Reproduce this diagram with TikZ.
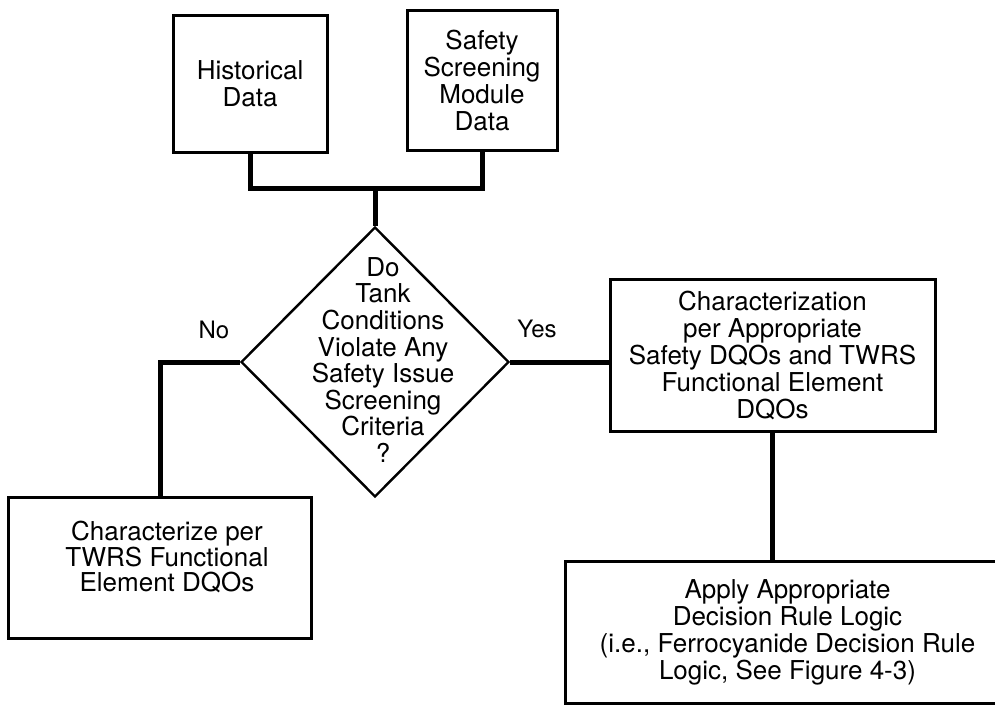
\documentclass[tikz,border=0pt]{standalone}
\usepackage{fontspec}
\setmainfont{TeX Gyre Heros}
\usetikzlibrary{shapes.geometric}
\begin{document}
\begin{tikzpicture}[x=1pt,y=-1pt,
  box/.style={draw, line width=3pt, rectangle, inner sep=0pt, align=center, font=\fontsize{26}{27}\selectfont},
  txt/.style={align=center, inner sep=0pt, font=\fontsize{26}{27}\selectfont},
  conn/.style={line width=5pt},
  dec/.style={draw, diamond, line width=2.4pt, inner sep=0pt},
  lbl/.style={inner sep=0pt, font=\fontsize{24}{26}\selectfont}]
\useasboundingbox[fill=white] (0,0) rectangle (995,705);
\clip (0,0) rectangle (995,705);

% boxes
\node[box, minimum width=154, minimum height=137] (hist) at (250,83.5) {Historical\\Data};
\node[box, minimum width=150, minimum height=140] (safe) at (482,80) {Safety\\Screening\\Module\\Data};
\node[dec, minimum width=268, minimum height=270] (dia) at (375,362) {};
\node[txt, font=\fontsize{26}{26.6}\selectfont] (diatxt) at (383,360) {Do\\Tank\\Conditions\\Violate Any\\Safety Issue\\Screening\\Criteria\\?};
\node[box, minimum width=303, minimum height=141] (lbox) at (160,567.5) {};
\node[txt, font=\fontsize{26}{25}\selectfont] (ltxt) at (167,557) {Characterize per\\TWRS Functional\\Element DQOs};
\node[box, minimum width=325, minimum height=152] (rbox) at (772.5,355) {Characterization\\per Appropriate\\Safety DQOs and TWRS\\Functional Element\\DQOs};
\node[box, minimum width=445, minimum height=142] (bbox) at (787.5,632) {Apply Appropriate\\Decision Rule Logic\\(i.e., Ferrocyanide Decision Rule\\Logic, See Figure 4-3)};

% labels
\node[lbl] (no) at (214,330) {No};
\node[lbl] (yes) at (537,329) {Yes};

% connectors
\coordinate (join) at (375,188);
\draw[conn] (hist.south) |- (join) -| (safe.south);
\draw[conn] (join) -- (dia.north);
\draw[conn] (dia.west) -| (lbox.north);
\draw[conn] (dia.east) -- (dia.east -| rbox.west);
\draw[line width=4.2pt] (rbox.south) -- (rbox.south |- bbox.north);
\end{tikzpicture}
\end{document}
